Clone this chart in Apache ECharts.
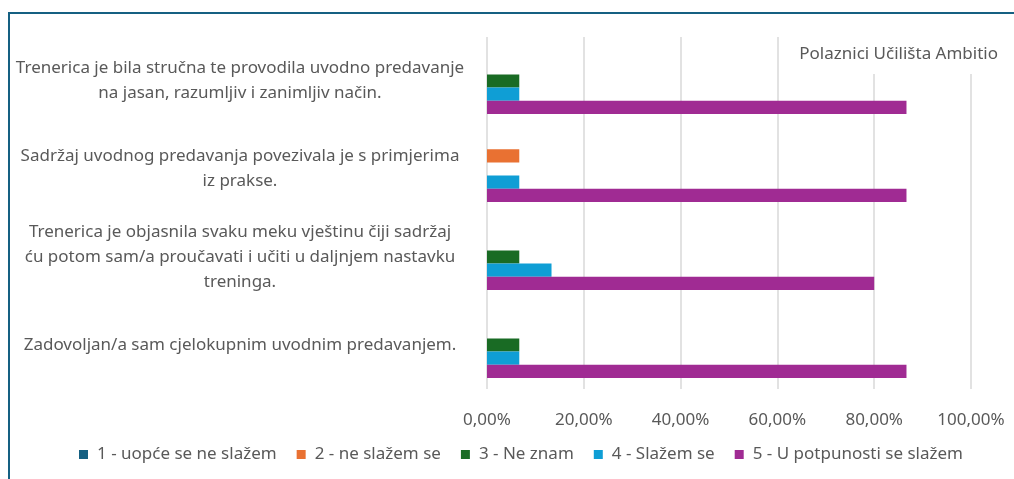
<!DOCTYPE html>
<html lang="hr">
<head>
    <meta charset="utf-8"/>
    <title>Polaznici Učilišta Ambitio</title>
    <script src="https://cdn.jsdelivr.net/npm/echarts@6/dist/echarts.min.js"></script>
</head>
<body style="margin: 0; background: #fff">
<div id="frame" style="position: absolute; left: 8px; top: 12px; right: 0; bottom: 0; border-top: 2px solid #156082; border-left: 2px solid #156082; pointer-events: none; z-index: 2"></div>
<div id="chart" style="width: 1014px; height: 479px"></div>
<script>
    // categories, top to bottom
    const CATEGORIES = [
        'Trenerica je bila stručna te provodila uvodno predavanje\nna jasan, razumljiv i zanimljiv način.',
        'Sadržaj uvodnog predavanja povezivala je s primjerima\niz prakse.',
        'Trenerica je objasnila svaku meku vještinu čiji sadržaj\nću potom sam/a proučavati i učiti u daljnjem nastavku\ntreninga.',
        'Zadovoljan/a sam cjelokupnim uvodnim predavanjem.'
    ];

    const SERIES_NAMES = [
        '1 - uopće se ne slažem',
        '2 - ne slažem se',
        '3 - Ne znam',
        '4 - Slažem se',
        '5 - U potpunosti se slažem'
    ];
    const COLORS = ['#156082', '#E97132', '#196B24', '#0F9ED5', '#A02B93'];

    // percentages per series, one value per category
    const S1 = [0, 0, 0, 0];
    const S2 = [0, 6.67, 0, 0];
    const S3 = [6.67, 0, 6.67, 6.67];
    const S4 = [6.67, 6.67, 13.33, 6.67];
    const S5 = [86.67, 86.67, 80, 86.67];
    const VALUES = [S1, S2, S3, S4, S5];

    const X_TICKS = [0, 20, 40, 60, 80, 100];

    const FONT = 'Noto Sans';
    const GREY = '#595959';

    let chart = echarts.init(document.getElementById('chart'));

    chart.setOption({
        animation: false,
        color: COLORS,
        textStyle: {fontFamily: FONT},
        title: {
            text: 'Polaznici Učilišta Ambitio',
            right: 10,
            top: 37,
            padding: [9, 6, 11, 12],
            backgroundColor: '#fff',
            textStyle: {fontFamily: FONT, fontSize: 17, fontWeight: 'normal', color: GREY}
        },
        legend: {
            top: 441,
            left: 74,
            itemWidth: 9,
            itemHeight: 9,
            itemGap: 20,
            icon: 'rect',
            textStyle: {fontFamily: FONT, fontSize: 17, color: GREY, padding: [0, 0, 0, 4]},
            data: SERIES_NAMES
        },
        grid: {left: 487, right: 43, top: 37, bottom: 90},
        xAxis: {
            type: 'value',
            min: X_TICKS[0],
            max: X_TICKS[X_TICKS.length - 1],
            interval: 20,
            axisLine: {show: false},
            axisTick: {show: false},
            splitLine: {lineStyle: {color: '#d9d9d9', width: 1.5}},
            axisLabel: {
                margin: 23,
                fontFamily: FONT,
                fontSize: 17,
                color: GREY,
                formatter: v => v.toFixed(2).replace('.', ',') + '%'
            }
        },
        yAxis: {
            type: 'category',
            inverse: true,
            data: CATEGORIES,
            axisLine: {show: false},
            axisTick: {show: false},
            axisLabel: {
                margin: 17,
                align: 'right',
                formatter: v => v.split('\n').map(l => '{a|' + l + '}').join('\n'),
                rich: {
                    a: {width: 460, align: 'center', fontFamily: FONT, fontSize: 17, lineHeight: 25, color: GREY}
                }
            }
        },
        series: VALUES.map((vals, i) => ({
            name: SERIES_NAMES[i],
            type: 'bar',
            data: vals,
            barGap: '0%',
            barCategoryGap: '25%'
        }))
    });
</script>
</body>
</html>
